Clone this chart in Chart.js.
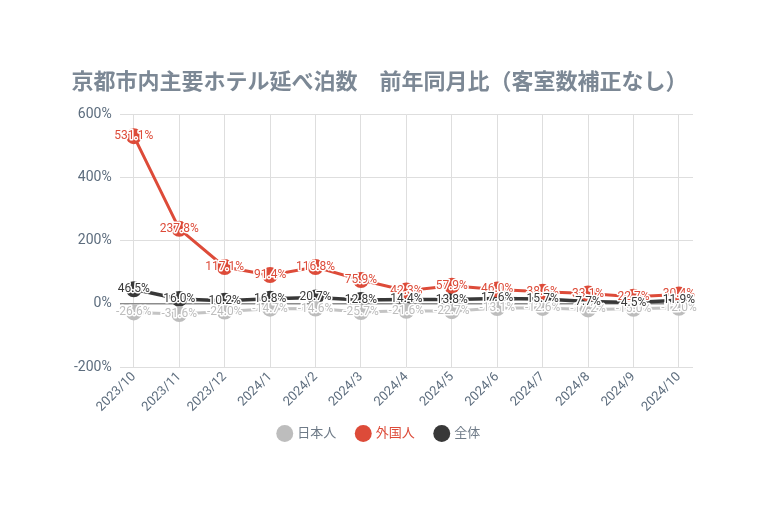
<!DOCTYPE html>
<html>
<head>
<meta charset="utf-8">
<script src="https://cdn.jsdelivr.net/npm/chart.js@4"></script>
<style>
  html, body { margin: 0; padding: 0; background: #fff; }
  #wrap { width: 768px; height: 512px; }
</style>
</head>
<body>
<div id="wrap"><canvas id="chart"></canvas></div>
<script>
const months = ['2023/10', '2023/11', '2023/12', '2024/1', '2024/2', '2024/3', '2024/4',
    '2024/5', '2024/6', '2024/7', '2024/8', '2024/9', '2024/10'];
const japanese = [-26.6, -31.6, -24.0, -14.7, -14.6, -25.7, -21.6, -22.7, -13.1, -12.6, -17.2, -15.0, -12.0];
const foreign = [531.1, 237.8, 117.1, 91.4, 116.8, 75.9, 42.3, 57.9, 46.0, 38.6, 33.1, 22.7, 30.4];
const total = [46.5, 16.0, 10.2, 16.8, 20.7, 12.8, 14.4, 13.8, 17.6, 15.7, 7.7, 4.5, 11.9];
const yTicks = [-200, 0, 200, 400, 600];

const FONT = "Roboto, 'Noto Sans CJK JP', sans-serif";
const slate = '#5d6d7e';
const legendColors = ['#6f7b88', '#dd4b39', '#6f7b88'];

function toPoints(arr) {
    return arr.map((v, i) => ({ x: i, y: v }));
}

// draws the value on top of every point, like datalabels would
const valueLabels = {
    id: 'valueLabels',
    afterDatasetsDraw(chart) {
        const ctx = chart.ctx;
        ctx.save();
        ctx.font = '12px ' + FONT;
        ctx.textAlign = 'center';
        ctx.textBaseline = 'middle';
        ctx.lineJoin = 'round';
        chart.data.datasets.forEach((ds, di) => {
            const meta = chart.getDatasetMeta(di);
            if (meta.hidden) return;
            meta.data.forEach((pt, i) => {
                const text = ds.data[i].y.toFixed(1) + '%';
                ctx.lineWidth = 3;
                ctx.strokeStyle = '#fff';
                ctx.strokeText(text, pt.x, pt.y);
                ctx.fillStyle = ds.labelColor;
                ctx.fillText(text, pt.x, pt.y);
            });
        });
        ctx.restore();
    }
};

// legend padding is wide for item spacing, pull it up a bit closer to the axis
const legendNudge = {
    id: 'legendNudge',
    afterLayout(chart) {
        chart.legend.top -= 11;
        chart.legend.bottom -= 11;
    }
};

const config = {
    type: 'line',
    data: {
        datasets: [{
            label: '日本人',
            data: toPoints(japanese),
            borderColor: '#c4c4c4',
            backgroundColor: '#bdbdbd',
            labelColor: '#bdbdbd',
            borderWidth: 3,
            pointRadius: 8,
            pointHoverRadius: 8,
            pointBorderWidth: 0
        }, {
            label: '外国人',
            data: toPoints(foreign),
            borderColor: '#dd4b39',
            backgroundColor: '#dd4b39',
            labelColor: '#dd4b39',
            borderWidth: 3,
            pointRadius: 8,
            pointHoverRadius: 8,
            pointBorderWidth: 0
        }, {
            label: '全体',
            data: toPoints(total),
            borderColor: '#383838',
            backgroundColor: '#383838',
            labelColor: '#383838',
            borderWidth: 3.5,
            pointRadius: 8,
            pointHoverRadius: 8,
            pointBorderWidth: 0
        }]
    },
    options: {
        responsive: true,
        maintainAspectRatio: false,
        animation: false,
        layout: { padding: { left: 66, right: 75, top: 70, bottom: 51 } },
        plugins: {
            title: {
                display: true,
                text: '京都市内主要ホテル延べ泊数　前年同月比（客室数補正なし）',
                color: '#7c8895',
                font: { family: FONT, size: 22, weight: 'bold' },
                padding: { top: 0, bottom: 18 }
            },
            legend: {
                position: 'bottom',
                labels: {
                    usePointStyle: true,
                    pointStyle: 'circle',
                    boxWidth: 12,
                    boxHeight: 12,
                    padding: 21,
                    font: { family: FONT, size: 13 },
                    generateLabels(chart) {
                        const items = Chart.defaults.plugins.legend.labels.generateLabels(chart);
                        items.forEach((it, i) => { it.fontColor = legendColors[i]; it.lineWidth = 0; });
                        return items;
                    }
                }
            },
            tooltip: { enabled: false }
        },
        scales: {
            x: {
                type: 'linear',
                min: -0.31,
                max: 12.31,
                afterBuildTicks(scale) {
                    scale.ticks = months.map((m, i) => ({ value: i }));
                },
                ticks: {
                    autoSkip: false,
                    maxRotation: 45,
                    minRotation: 45,
                    padding: 2,
                    color: slate,
                    font: { family: FONT, size: 13 },
                    callback: (v) => months[v]
                },
                grid: { color: '#dedede', drawTicks: false },
                border: { display: false }
            },
            y: {
                min: -200,
                max: 600,
                afterBuildTicks(scale) {
                    scale.ticks = yTicks.map(v => ({ value: v }));
                },
                ticks: {
                    padding: 8,
                    color: slate,
                    font: { family: FONT, size: 14 },
                    callback: (v) => v + '%'
                },
                grid: {
                    drawTicks: false,
                    color: (c) => c.tick && c.tick.value === 0 ? '#8c8c8c' : '#dedede',
                    lineWidth: (c) => c.tick && c.tick.value === 0 ? 1.5 : 1
                },
                border: { display: false }
            }
        }
    },
    plugins: [valueLabels, legendNudge]
};

const myChart = new Chart(document.getElementById('chart'), config);
</script>
</body>
</html>
